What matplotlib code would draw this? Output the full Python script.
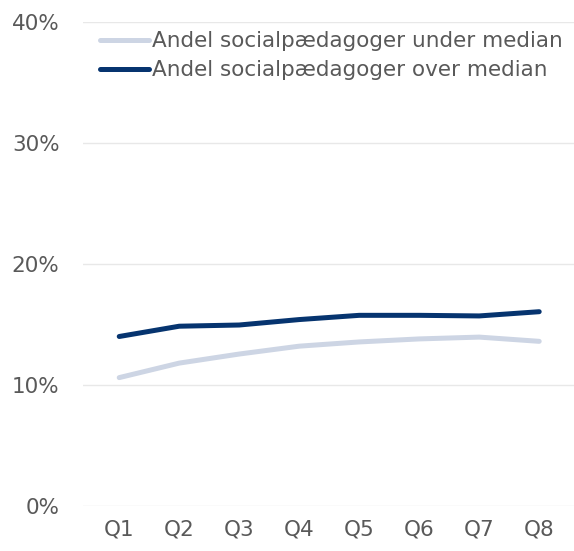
import matplotlib
matplotlib.use("Agg")
import matplotlib.pyplot as plt
import matplotlib.ticker as mticker

kvartiler = ["Q1", "Q2", "Q3", "Q4", "Q5", "Q6", "Q7", "Q8"]
under_median = [10.6, 11.8, 12.55, 13.2, 13.55, 13.8, 13.95, 13.6]
over_median = [14.0, 14.85, 14.95, 15.4, 15.75, 15.75, 15.7, 16.05]

lys = "#CDD5E4"
mork = "#06346F"
tekst = "#595959"

fig = plt.figure(figsize=(5.74, 5.51), dpi=100)
ax = fig.add_axes([0.145, 0.082, 0.855, 0.878])

x = range(len(kvartiler))
ax.plot(x, under_median, color=lys, lw=3.6, solid_capstyle="round",
        label="Andel socialpædagoger under median")
ax.plot(x, over_median, color=mork, lw=3.6, solid_capstyle="round",
        label="Andel socialpædagoger over median")

ax.set_ylim(0, 40)
ax.set_xlim(-0.6, 7.58)
ax.set_yticks([0, 10, 20, 30, 40])
ax.yaxis.set_major_formatter(mticker.FuncFormatter(lambda v, p: f"{v:.0f}%"))
ax.set_xticks(list(x))
ax.set_xticklabels(kvartiler)
ax.grid(axis="y", color="#E8E8E8", lw=1)
ax.set_axisbelow(True)
for s in ax.spines.values():
    s.set_visible(False)
ax.tick_params(length=0, labelsize=15.5, labelcolor=tekst)
ax.tick_params(axis="y", pad=17)
ax.tick_params(axis="x", pad=10)

leg = fig.legend(loc="upper left", bbox_to_anchor=(0.159, 0.959), frameon=False,
                 fontsize=15.5, handlelength=2.3, handletextpad=0.12,
                 labelspacing=0.43, borderaxespad=0)
for t in leg.get_texts():
    t.set_color(tekst)

fig.savefig("out.png", dpi=100)
